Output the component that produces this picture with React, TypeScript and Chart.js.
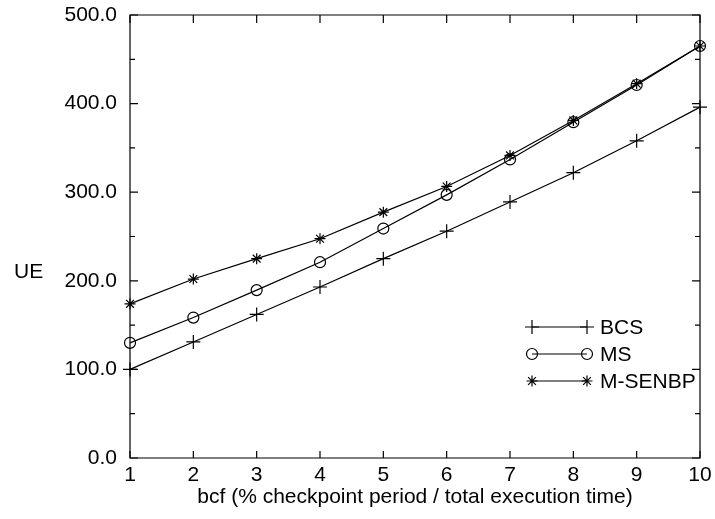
import React, { useEffect, useRef } from "react";
import { Chart, registerables } from "chart.js";
import { drawPoint } from "chart.js/helpers";

Chart.register(...registerables);

const categories = ["1", "2", "3", "4", "5", "6", "7", "8", "9", "10"];
const bcs = [100, 131, 162, 193, 225, 256, 289, 322, 358, 396];
const ms = [130, 158.5, 189.5, 221, 259, 297, 337, 379, 421, 465];
const msenbp = [174, 202, 225, 247.5, 277.5, 306.5, 341.5, 381, 422.5, 465];
const seriesNames = ["BCS", "MS", "M-SENBP"];
const yTitle = "UE";
const xTitle = "bcf (% checkpoint period / total execution time)";

const FONT = "'Liberation Sans', Arial, Helvetica, sans-serif";
const FS = 21;

const styles = [
  { pointStyle: "cross", radius: 7 },
  { pointStyle: "circle", radius: 5.5 },
  { pointStyle: "star", radius: 5.5 },
];

const framePlugin = {
  id: "frame",
  afterDraw(chart: any) {
    const ctx = chart.ctx;
    const { left, right, top, bottom } = chart.chartArea;
    const xs = chart.scales.x;
    const ys = chart.scales.y;
    ctx.save();
    ctx.strokeStyle = "#000";
    ctx.lineWidth = 1.2;
    ctx.beginPath();
    ctx.rect(left, top, right - left, bottom - top);
    ctx.stroke();
    ctx.beginPath();
    for (let i = 0; i < categories.length; i++) {
      const px = xs.getPixelForValue(i);
      ctx.moveTo(px, bottom);
      ctx.lineTo(px, bottom - 7);
      ctx.moveTo(px, top);
      ctx.lineTo(px, top + 8);
    }
    for (let v = 0; v <= 500; v += 50) {
      const py = ys.getPixelForValue(v);
      const len = v % 100 === 0 ? 8 : 5;
      ctx.moveTo(left, py);
      ctx.lineTo(left + len, py);
      ctx.moveTo(right, py);
      ctx.lineTo(right - len, py);
    }
    ctx.stroke();

    // titles
    ctx.fillStyle = "#000";
    ctx.font = `${FS}px ${FONT}`;
    ctx.textAlign = "left";
    ctx.textBaseline = "middle";
    ctx.fillText(yTitle, 14, 272);
    ctx.textAlign = "center";
    ctx.fillText(xTitle, (left + right) / 2, 497);

    // legend
    const lx1 = 532;
    const lx2 = 587;
    const ly = [327, 354, 381];
    ctx.textAlign = "left";
    for (let i = 0; i < 3; i++) {
      ctx.strokeStyle = "#000";
      ctx.lineWidth = 1.2;
      ctx.beginPath();
      ctx.moveTo(lx1, ly[i]);
      ctx.lineTo(lx2, ly[i]);
      ctx.stroke();
      const opts = {
        pointStyle: styles[i].pointStyle,
        radius: styles[i].radius,
        rotation: 0,
        borderWidth: 1.2,
      };
      ctx.fillStyle = "rgba(0,0,0,0)";
      drawPoint(ctx, opts as any, lx1, ly[i]);
      drawPoint(ctx, opts as any, lx2, ly[i]);
      ctx.fillStyle = "#000";
      ctx.fillText(seriesNames[i], 600, ly[i] + 1);
    }
    ctx.restore();
  },
};

export default function App() {
  const ref = useRef<HTMLCanvasElement>(null);
  useEffect(() => {
    if (!ref.current) return;
    const mk = (label: string, data: number[], i: number) => ({
      label,
      data,
      borderColor: "#000",
      borderWidth: 1.2,
      backgroundColor: "rgba(0,0,0,0)",
      pointStyle: styles[i].pointStyle,
      pointRadius: styles[i].radius,
      pointBorderColor: "#000",
      pointBackgroundColor: "rgba(0,0,0,0)",
      pointBorderWidth: 1.2,
      tension: 0,
      fill: false,
    });
    const chart = new Chart(ref.current, {
      type: "line",
      data: {
        labels: categories,
        datasets: [mk(seriesNames[0], bcs, 0), mk(seriesNames[1], ms, 1), mk(seriesNames[2], msenbp, 2)],
      },
      options: {
        animation: false,
        responsive: false,
        events: [],
        layout: { padding: { left: 0, top: 15, right: 15, bottom: 0 } },
        plugins: { legend: { display: false }, tooltip: { enabled: false } },
        scales: {
          x: {
            offset: false,
            grid: { display: false },
            border: { display: false },
            ticks: { color: "#000", font: { family: FONT, size: FS }, padding: -3, maxRotation: 0 },
            afterFit(scale: any) {
              scale.height = 61;
              scale.paddingLeft = 0;
              scale.paddingRight = 0;
            },
          },
          y: {
            min: 0,
            max: 500,
            grid: { display: false },
            border: { display: false },
            ticks: {
              stepSize: 100,
              color: "#000",
              font: { family: FONT, size: FS },
              padding: 5,
              callback: (v: any) => Number(v).toFixed(1),
            },
            afterFit(scale: any) {
              scale.width = 130;
              scale.paddingTop = 0;
              scale.paddingBottom = 0;
            },
          },
        },
      },
      plugins: [framePlugin],
    });
    return () => chart.destroy();
  }, []);
  return (
    <div style={{ position: "absolute", left: 0, top: 0, width: 715, height: 519, background: "#fff" }}>
      <canvas ref={ref} width={715} height={519} style={{ display: "block" }} />
    </div>
  );
}
